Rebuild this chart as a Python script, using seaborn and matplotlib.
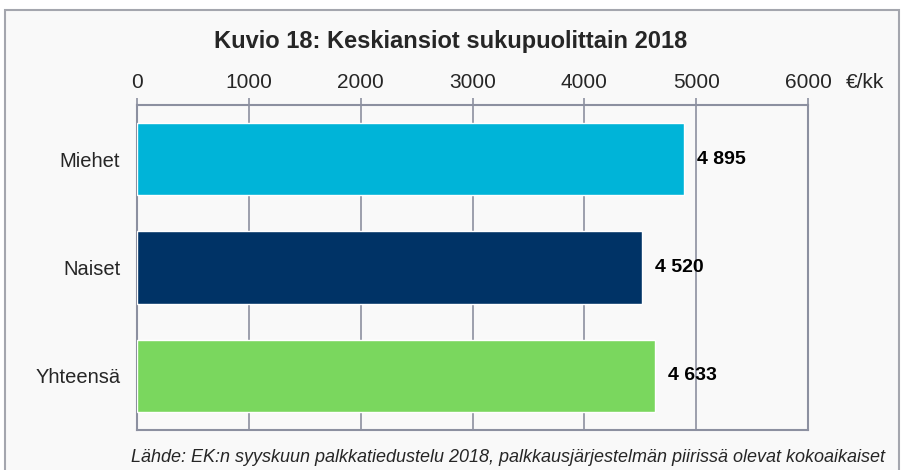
import pandas as pd
import seaborn as sns
import matplotlib.pyplot as plt
from matplotlib.patches import Rectangle

# data
groups = ["Miehet", "Naiset", "Yhteensä"]
earnings = [4895, 4520, 4633]
value_labels = ["4 895", "4 520", "4 633"]
bar_colors = ["#00B4D8", "#003366", "#7AD75E"]
x_ticks = [0, 1000, 2000, 3000, 4000, 5000, 6000]

df = pd.DataFrame({"group": groups, "earnings": earnings})

sns.set_style("white")
plt.rcParams["font.family"] = ["Liberation Sans", "DejaVu Sans"]

W, H = 902, 470
fig = plt.figure(figsize=(W / 100, H / 100), dpi=100, facecolor="white")
ax = fig.add_axes([137 / W, 1 - 430 / H, (808 - 137) / W, (430 - 105) / H])

bg = "#F9F9F9"
grid_c = "#8C90A0"

# outer chart frame
fig.patches.append(Rectangle((5 / W, -0.05), (899 - 5) / W, 1 - 10 / H + 0.05,
                             transform=fig.transFigure, facecolor=bg,
                             edgecolor="#A4A6AE", linewidth=1.5, zorder=-10))
ax.set_facecolor(bg)

sns.barplot(data=df, y="group", x="earnings", hue="group", palette=bar_colors,
            width=0.67, legend=False, ax=ax, saturation=1, zorder=3)

for cont, lab in zip(ax.containers, value_labels):
    ax.bar_label(cont, labels=[lab], padding=9, fontsize=14, fontweight="bold",
                 color="black")

ax.set_xlim(0, 6000)
ax.set_ylim(2.5, -0.5)
ax.set_xticks(x_ticks)
ax.xaxis.tick_top()
ax.tick_params(axis="x", direction="out", length=5, color=grid_c, width=1.2,
               labelsize=15, pad=4)
ax.set_yticks([-0.5, 0.5, 1.5, 2.5], minor=True)
ax.tick_params(axis="y", which="major", length=0, labelsize=14.5, pad=12)
ax.tick_params(axis="y", which="minor", direction="out", length=5, color=grid_c,
               width=1.2)
ax.set_xlabel("")
ax.set_ylabel("")
ax.grid(axis="x", color=grid_c, linewidth=1.2, zorder=0)
ax.set_axisbelow(True)
for side in ["top", "bottom", "left", "right"]:
    ax.spines[side].set_visible(True)
    ax.spines[side].set_color(grid_c)
    ax.spines[side].set_linewidth(1.5)

fig.text(865 / W, 1 - 88 / H, "€/kk", ha="center", va="baseline", fontsize=15)
fig.text(451 / W, 1 - 48 / H, "Kuvio 18: Keskiansiot sukupuolittain 2018",
         ha="center", va="baseline", fontsize=17, fontweight="bold")
fig.text(508 / W, 1 - 458 / H,
         "Lähde: EK:n syyskuun palkkatiedustelu 2018, palkkausjärjestelmän piirissä olevat kokoaikaiset",
         ha="center", va="center", fontsize=13, style="italic")

fig.savefig("out.png", dpi=100, facecolor="white")
